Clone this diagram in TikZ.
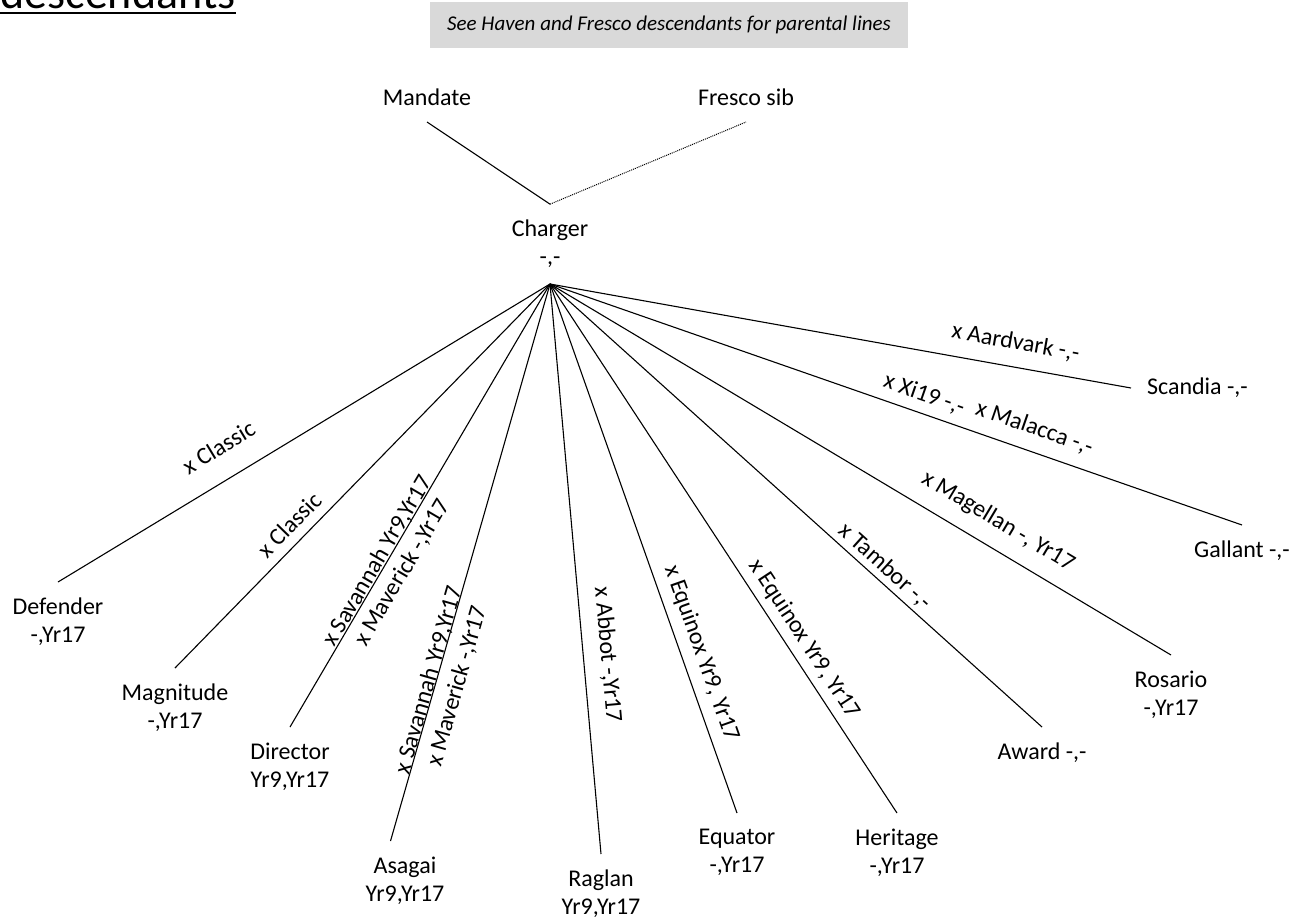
\documentclass[tikz,border=0pt]{standalone}
\usepackage{fontspec}
\setmainfont{Carlito}
\usepackage{xcolor}
\usetikzlibrary{calc}

\tikzset{
  horse/.style={align=center, inner sep=15.5pt, font=\fontsize{24}{28}\selectfont},
  cross/.style={sloped, font=\fontsize{24}{28}\selectfont},
}

\begin{document}
\begin{tikzpicture}[x=1pt, y=-1pt, line width=1.1pt]

	\useasboundingbox (0,0) rectangle (1297,921);

	% heading, runs off the top edge
	\node[anchor=base west, inner sep=0pt, font=\fontsize{46}{50}\selectfont] (heading) at (0,8) {descendants};
	\draw[line width=2.5pt] ([yshift=-5pt]heading.base west) -- ([yshift=-5pt]heading.base east);

	\node[fill=black!15, minimum width=478pt, minimum height=46pt, inner sep=0pt, font=\fontsize{21}{24}\selectfont\itshape] (note) at (669,25) {See Haven and Fresco descendants for parental lines};

	% parents
	\node[horse, anchor=south] (mandate) at (427,122) {Mandate};
	\node[horse, anchor=south] (fresco) at (746,122) {Fresco sib};
	\node[horse, anchor=south] (charger) at (550,284) {Charger\\-,-};

	\draw (charger.north) -- (mandate.south);
	\draw[densely dotted, line width=1pt] (charger.north) -- (fresco.south);

	% offspring
	\node[horse, anchor=north] (defender) at (58,582) {Defender\\-,Yr17};
	\node[horse, anchor=north] (magnitude) at (175,668) {Magnitude\\-,Yr17};
	\node[horse, anchor=north] (director) at (290,727) {Director\\Yr9,Yr17};
	\node[horse, anchor=north] (asagai) at (405,841) {Asagai\\Yr9,Yr17};
	\node[horse, anchor=north] (raglan) at (601,854) {Raglan\\Yr9,Yr17};
	\node[horse, anchor=north] (equator) at (737,813) {Equator\\-,Yr17};
	\node[horse, anchor=north] (heritage) at (897,813) {Heritage\\-,Yr17};
	\node[horse, anchor=north] (award) at (1042,727) {Award -,-};
	\node[horse, anchor=north] (rosario) at (1171,655) {Rosario\\-,Yr17};
	\node[horse, anchor=north] (gallant) at (1242,525) {Gallant -,-};
	\node[horse, anchor=west] (scandia) at (1131,388) {Scandia -,-};

	\draw (charger.south) -- node[cross, pos=.64, above, inner sep=23pt] {x Classic} (defender.north);
	\draw (charger.south) -- node[cross, pos=.66, above, inner sep=9pt] {x Classic} (magnitude.north);
	\draw (charger.south) -- node[cross, pos=.635, above, inner sep=-2pt] {x Savannah Yr9,Yr17}
		node[cross, pos=.63, below, inner sep=8.5pt] {x Maverick -,Yr17} (director.north);
	\draw (charger.south) -- node[cross, pos=.715, above, inner sep=-3pt] {x Savannah Yr9,Yr17}
		node[cross, pos=.712, below, inner sep=11pt] {x Maverick -,Yr17} (asagai.110);
	\draw (charger.south) -- node[cross, pos=.654, above, inner sep=14pt] {x Abbot -,Yr17} (raglan.north);
	\draw (charger.south) -- node[cross, pos=.71, above, inner sep=9pt] {x Equinox Yr9, Yr17} (equator.north);
	\draw (charger.south) -- node[cross, pos=.69, above, inner sep=7pt] {x Equinox Yr9, Yr17} (heritage.north);
	\draw (charger.south) -- node[cross, pos=.662, above, inner sep=4pt] {x Tambor -,-} (award.north);
	\draw (charger.south) -- node[cross, pos=.70, above, inner sep=15pt] {x Magellan -, Yr17} (rosario.north);
	\draw (charger.south) -- node[cross, pos=.532, above, inner sep=8.5pt] {x Xi19 -,-}
		node[cross, pos=.689, above, inner sep=13pt] {x Malacca -,-} (gallant.north);
	\draw (charger.south) -- node[cross, pos=.794, above, inner sep=14pt] {x Aardvark -,-} (scandia.west);

\end{tikzpicture}
\end{document}
